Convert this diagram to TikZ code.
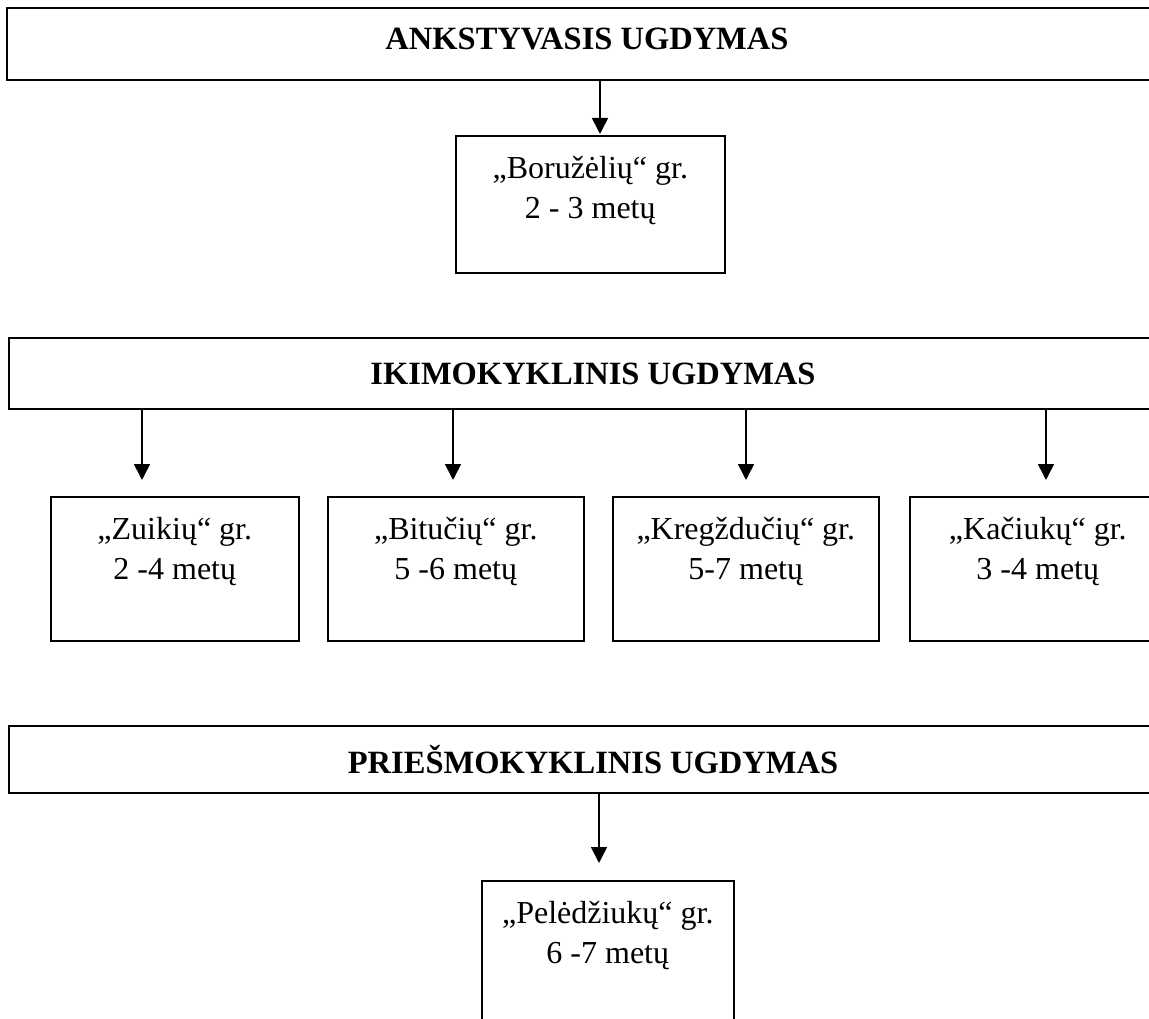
\documentclass[tikz,border=0pt]{standalone}
\usepackage{fontspec}
\setmainfont{Liberation Serif}
\usetikzlibrary{arrows.meta}

\begin{document}
\begin{tikzpicture}[x=1pt,y=-1pt,
    hdr/.style={draw,line width=2pt,anchor=north west,inner sep=0pt,
        font=\fontsize{32.5}{38}\selectfont\bfseries},
    grp/.style={draw,line width=1.6pt,anchor=north west,inner sep=0pt,minimum height=144pt},
    grptext/.style={anchor=north,inner sep=0pt,align=center,font=\fontsize{32}{40}\selectfont},
    arr/.style={line width=1.6pt,-{Triangle[width=16pt,length=16pt]}}]
        \pgfmathsetmacro\rowtop{496}
        \pgfmathsetmacro\tiptop{480}
        \useasboundingbox (0,0) rectangle (1149,1019);
        \clip (0,0) rectangle (1149,1019);

        % headers
        \node[hdr,minimum width=1160pt,minimum height=72pt,text depth=10pt] (hdrA) at (6,7) {ANKSTYVASIS UGDYMAS};
        \node[hdr,minimum width=1168pt,minimum height=71pt] (hdrB) at (8,337) {IKIMOKYKLINIS UGDYMAS};
        \node[hdr,minimum width=1168pt,minimum height=67pt] (hdrC) at (8,725) {PRIEŠMOKYKLINIS UGDYMAS};

        % groups
        \node[grp,minimum width=269pt,minimum height=137pt] (bor) at (455,135) {};
        \node[grp,minimum width=248pt] (zui) at (50,\rowtop) {};
        \node[grp,minimum width=256pt] (bit) at (327,\rowtop) {};
        \node[grp,minimum width=266pt] (kre) at (612,\rowtop) {};
        \node[grp,minimum width=256pt] (kac) at (909,\rowtop) {};
        \node[grp,minimum width=252pt,minimum height=200pt] (pel) at (481,880) {};

        \node[grptext] (borT) at ([yshift=-15pt]bor.north) {\strut„Boružėlių“ gr.\\\strut 2 - 3 metų};
        \node[grptext] (zuiT) at ([yshift=-15pt]zui.north) {\strut„Zuikių“ gr.\\\strut 2 -4 metų};
        \node[grptext] (bitT) at ([yshift=-15pt]bit.north) {\strut„Bitučių“ gr.\\\strut 5 -6 metų};
        \node[grptext] (kreT) at ([yshift=-15pt]kre.north) {\strut„Kregždučių“ gr.\\\strut 5-7 metų};
        \node[grptext] (kacT) at ([yshift=-15pt]kac.north) {\strut„Kačiukų“ gr.\\\strut 3 -4 metų};
        \node[grptext] (pelT) at ([yshift=-15pt]pel.north) {\strut„Pelėdžiukų“ gr.\\\strut 6 -7 metų};

        % arrow tips
        \coordinate (tBor) at (600,134);
        \coordinate (tZui) at (142,\tiptop);
        \coordinate (tBit) at (453,\tiptop);
        \coordinate (tKre) at (746,\tiptop);
        \coordinate (tKac) at (1046,\tiptop);
        \coordinate (tPel) at (599,863);

        \draw[arr] (hdrA.south -| tBor) -- (tBor);
        \foreach \t in {tZui,tBit,tKre,tKac}
            \draw[arr] (hdrB.south -| \t) -- (\t);
        \draw[arr] (hdrC.south -| tPel) -- (tPel);
    \end{tikzpicture}
\end{document}
